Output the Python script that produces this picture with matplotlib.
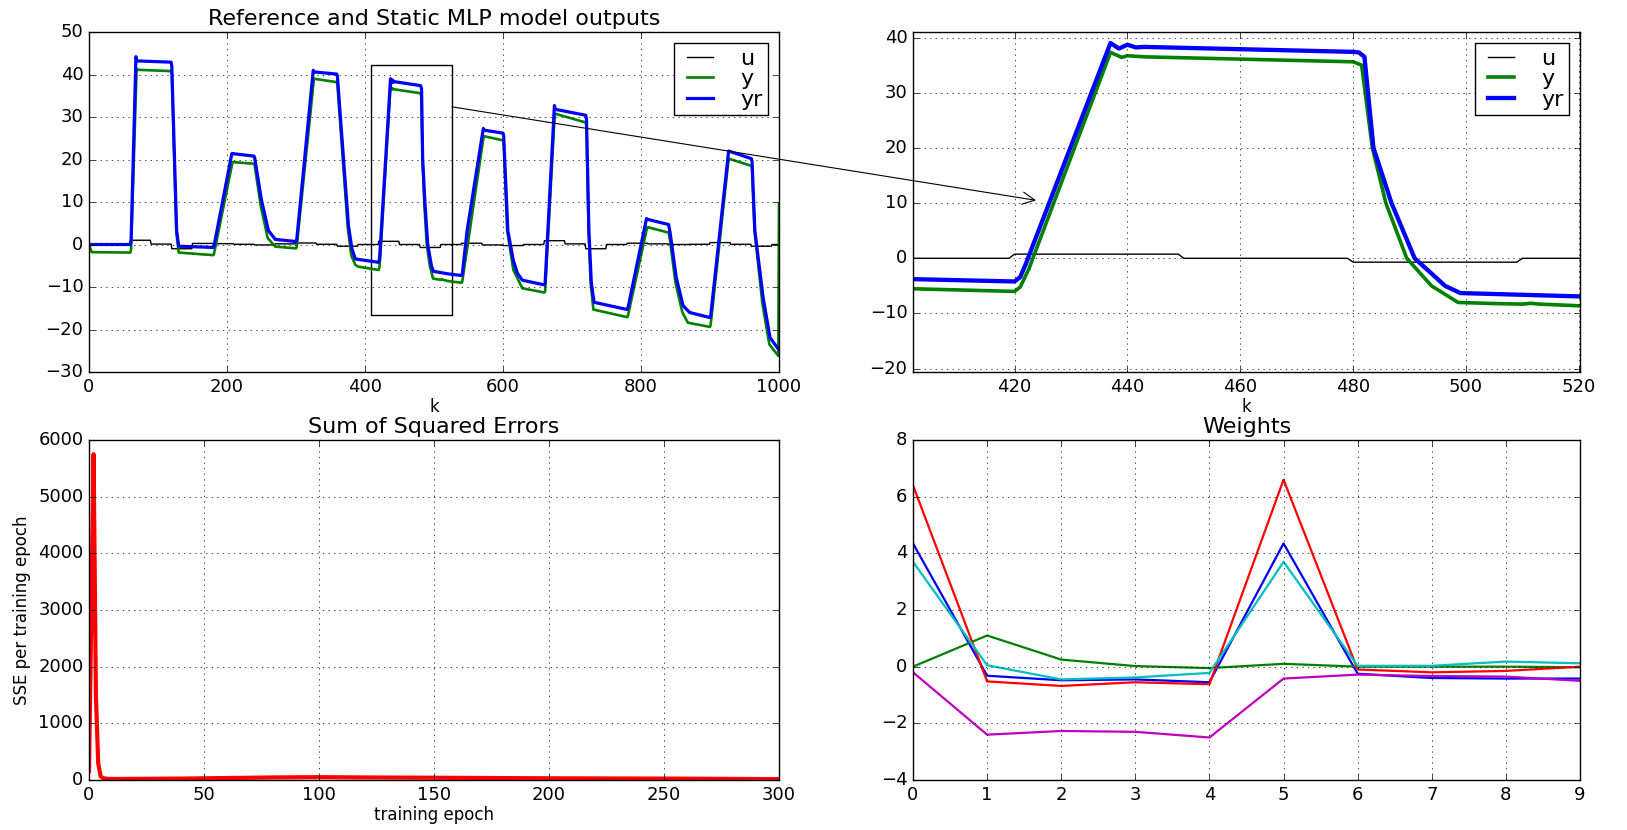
import numpy as np
import matplotlib
matplotlib.use("Agg")
import matplotlib.pyplot as plt
from matplotlib.patches import Rectangle, ConnectionPatch

plt.style.use('classic')
plt.rcParams['xtick.labelsize'] = 13
plt.rcParams['ytick.labelsize'] = 13

# ---- data ----
# control input u: one value per 30-sample block, k = 0..1000
u_blocks = [0.0, 0.0, 1.0, 0.1, -1.0, 0.25, 0.2, 0.05, -0.1, 0.15, 0.35, 0.05,
            -0.4, 0.0, 0.75, 0.0, -0.7, 0.0, 0.3, -0.1, -0.25, 0.0, 0.9, 0.15,
            -1.0, 0.0, 0.3, 0.15, 0.0, 0.05, 0.45, 0.05, -0.4, 0.0]

# reference model output yr (vertices)
yr_k = [0, 60, 61, 68, 69.5, 119, 120, 127, 130, 180, 181, 207, 239, 240, 250, 260,
        270, 300, 301, 325, 326.5, 359, 360, 376, 381, 386, 420, 421, 422, 437,
        438.5, 440, 441.5, 443, 480, 481, 482, 483.6, 486.8, 490.9, 496.3, 499,
        520, 540, 541, 548, 571.5, 573, 600, 601, 607, 615, 621, 628, 660, 661,
        674.5, 676, 720, 721, 724.5, 728, 732, 780, 781, 808, 810, 840, 842, 851,
        861, 870.5, 900, 901, 927, 960, 961, 965, 977, 987, 999, 1000]
yr_v = [0, 0, 1, 44.2, 43.2, 42.9, 42, 3.3, -0.4, -0.7, -0.5, 21.4, 20.8, 20.5, 10.4, 3.3,
        1.2, 0.7, 1.0, 41.0, 40.6, 40.1, 39.6, 4.5, -1.0, -3.4, -4.2, -3.4, -1.0, 39.0,
        38.0, 38.7, 38.2, 38.3, 37.4, 37.3, 36.5, 20, 10, 0, -5, -6.3,
        -6.9, -7.3, -7.0, 3.3, 27.3, 26.9, 26.2, 25.5, 3.3, -3.8, -6.8, -8.4, -9.5, -9.2,
        32.7, 31.8, 30.4, 29.5, 3.3, -9.0, -13.6, -15.3, -15.0, 6.1, 5.9, 4.7, 3.0, -7.7,
        -14.4, -16.0, -17.2, -16.8, 22.0, 20.2, 19.5, 3.3, -12.5, -21.9, -24.6, -24.6]

# plant / model output y (vertices)
y_k = [0, 1, 4, 60, 61, 69, 71, 119, 120, 126.5, 130, 180, 181, 208, 239, 240, 249,
       259, 270, 300, 301, 326, 359, 360, 375, 380, 386, 390, 420, 421, 422.5, 437,
       439, 440, 443, 480, 481.5, 483.4, 485.8, 489.5, 493.9, 498.6, 505, 510,
       511.5, 513, 520, 540, 541, 572, 600, 601, 606, 615, 628, 660, 661, 675, 720,
       721, 724, 727, 731, 780, 781, 809, 840, 842, 850, 860, 868, 900, 901, 927,
       960, 961, 964.5, 976, 986, 999, 1000]
y_v = [0, -0.5, -1.8, -1.9, -1.0, 41.4, 41.1, 40.8, 40.0, 3.0, -1.9, -2.5, -2.3, 19.4, 19.0, 18.7, 9.0,
       1.5, -0.5, -0.9, -0.6, 39.0, 38.2, 37.6, 4.0, -2.5, -4.8, -5.2, -6.0, -5.2, -2.0, 37.3,
       36.4, 36.7, 36.5, 35.6, 35.0, 20, 10, 0, -5, -8.0, -8.2, -8.3,
       -8.15, -8.3, -8.6, -9.0, -8.7, 25.5, 24.5, 24.0, 3.3, -6.0, -10.3, -11.3, -11.0, 30.8, 28.7,
       27.5, 3.3, -9.0, -15.3, -17.1, -16.8, 4.1, 2.8, 1.0, -9.0, -16.0, -18.4, -19.4, -18.8, 20.2,
       18.5, 17.5, 3.3, -14.0, -23.5, -26.2, 9.6]

# sum of squared errors per training epoch
sse_epoch = [0, 1, 2, 3, 4, 5, 6, 8, 10, 20, 40, 60, 80, 100, 120, 150, 200, 250, 300]
sse_value = [160, 2900, 5750, 1500, 300, 70, 35, 20, 18, 20, 25, 35, 45, 50, 45, 40, 30, 25, 15]

# final weights, one list per neuron
w_index = [0, 1, 2, 3, 4, 5, 6, 7, 8, 9]
w_blue = [4.35, -0.32, -0.48, -0.45, -0.55, 4.35, -0.25, -0.4, -0.42, -0.42]
w_green = [0.0, 1.1, 0.25, 0.02, -0.05, 0.1, 0.0, 0.0, 0.0, -0.02]
w_red = [6.4, -0.52, -0.68, -0.55, -0.62, 6.6, -0.1, -0.2, -0.15, 0.0]
w_cyan = [3.7, 0.05, -0.45, -0.38, -0.22, 3.7, 0.03, 0.03, 0.18, 0.12]
w_magenta = [-0.2, -2.4, -2.27, -2.3, -2.5, -0.42, -0.28, -0.33, -0.35, -0.5]

# ---- figure ----
k = np.arange(0, 1001)
u = np.repeat(u_blocks, 30)[:len(k)]

W, H = 1627.0, 830.0
fig = plt.figure(figsize=(16.27, 8.30), dpi=100, facecolor='white')

def box(l, t, r, b):
    return [l / W, 1 - b / H, (r - l) / W, (b - t) / H]

ax1 = fig.add_axes(box(89, 32, 779, 372))
ax2 = fig.add_axes(box(913, 32, 1580, 372))
ax3 = fig.add_axes(box(89, 440, 779, 780))
ax4 = fig.add_axes(box(913, 440, 1580, 780))

# top row: same signals, full range and zoomed view
for ax, lw_y, lw_yr in ((ax1, 1.9, 2.3), (ax2, 2.6, 3.1)):
    ax.plot(k, u, color='k', lw=1.0, label='u')
    ax.plot(y_k, y_v, color='g', lw=lw_y, label='y')
    ax.plot(yr_k, yr_v, color='b', lw=lw_yr, label='yr')
    ax.grid(True)
    ax.set_xlabel('k', labelpad=2)
    ax.legend(loc='upper right', fontsize=16, handlelength=1.8,
              handletextpad=0.9, labelspacing=0.02, borderpad=0.25)

ax1.set_xlim(0, 1000)
ax1.set_ylim(-30, 50)
ax1.set_title('Reference and Static MLP model outputs', fontsize=16)
ax1.add_patch(Rectangle((408.3, -16.5), 117.6, 58.8, fill=False, ec='k', lw=1.0))

ax2.set_xlim(402, 520.2)
ax2.set_ylim(-20.6, 41)
ax2.set_xticks([420, 440, 460, 480, 500, 520])

arrow = ConnectionPatch(xyA=(525.9, 32.4), coordsA=ax1.transData,
                        xyB=(423.8, 10.5), coordsB=ax2.transData,
                        arrowstyle='->', mutation_scale=22, lw=0.8, color='k')
fig.add_artist(arrow)

ax3.plot(sse_epoch, sse_value, color='r', lw=3)
ax3.set_xlim(0, 300)
ax3.set_ylim(0, 6000)
ax3.grid(True)
ax3.set_title('Sum of Squared Errors', fontsize=16)
ax3.set_xlabel('training epoch', labelpad=2)
ax3.set_ylabel('SSE per training epoch')

for vals, c in ((w_blue, 'b'), (w_green, 'g'), (w_red, 'r'),
                (w_cyan, 'c'), (w_magenta, 'm')):
    ax4.plot(w_index, vals, color=c, lw=1.6)
ax4.set_xlim(0, 9)
ax4.set_ylim(-4, 8)
ax4.grid(True)
ax4.set_title('Weights', fontsize=16)

fig.savefig('out.png', dpi=100, facecolor='white')
